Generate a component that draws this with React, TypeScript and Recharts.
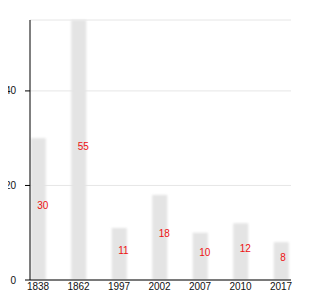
import React from "react";
import { BarChart, Bar, XAxis, YAxis, CartesianGrid, LabelList } from "recharts";

const categories = ["1838", "1862", "1997", "2002", "2007", "2010", "2017"];
const values = [30, 55, 11, 18, 10, 12, 8];
const yTicks = [0, 20, 40];

const data = categories.map((c, i) => ({ idx: i, year: c, value: values[i] }));

const BlurBar = (p: any) => (
  <rect x={p.x} y={p.y} width={p.width} height={p.height} fill="#e4e4e4" filter="url(#barBlur)" />
);

const CenterLabel = (p: any) => {
  const { x, y, width, height, value } = p;
  return (
    <text x={x + width / 2 - 1} y={y + height / 2} fill="#ee1111" fontSize={10} fontFamily="Liberation Sans, Arial, sans-serif">
      {value}
    </text>
  );
};

export default function App() {
  return (
    <div style={{ margin: "-8px 0 0 -8px", width: 330, height: 300 }}>
      <BarChart
        width={330}
        height={300}
        data={data}
        margin={{ top: 20, right: 39, left: 0, bottom: 0 }}
        style={{ fontFamily: "Liberation Sans, Arial, sans-serif" }}
      >
        <defs>
          <filter id="barBlur" x="-20%" y="-5%" width="140%" height="110%">
            <feGaussianBlur stdDeviation="0.9" />
          </filter>
        </defs>
        <CartesianGrid vertical={false} stroke="#e6e6e6" />
        <XAxis
          dataKey="idx"
          type="number"
          domain={[0, 6]}
          ticks={[0, 1, 2, 3, 4, 5, 6]}
          tickFormatter={(v: number) => categories[v]}
          padding={{ left: 8, right: 10 }}
          height={20}
          tickSize={0}
          tickMargin={3}
          axisLine={{ stroke: "#000" }}
          tick={{ fill: "#111", fontSize: 10 }}
          interval={0}
        />
        <YAxis
          width={30}
          domain={[0, 55]}
          ticks={yTicks}
          tickSize={5}
          tickMargin={9}
          axisLine={{ stroke: "#000" }}
          tickLine={{ stroke: "#000" }}
          tick={{ fill: "#111", fontSize: 10 }}
        />
        <Bar dataKey="value" barSize={15} shape={BlurBar} isAnimationActive={false}>
          <LabelList dataKey="value" content={CenterLabel} />
        </Bar>
      </BarChart>
    </div>
  );
}
